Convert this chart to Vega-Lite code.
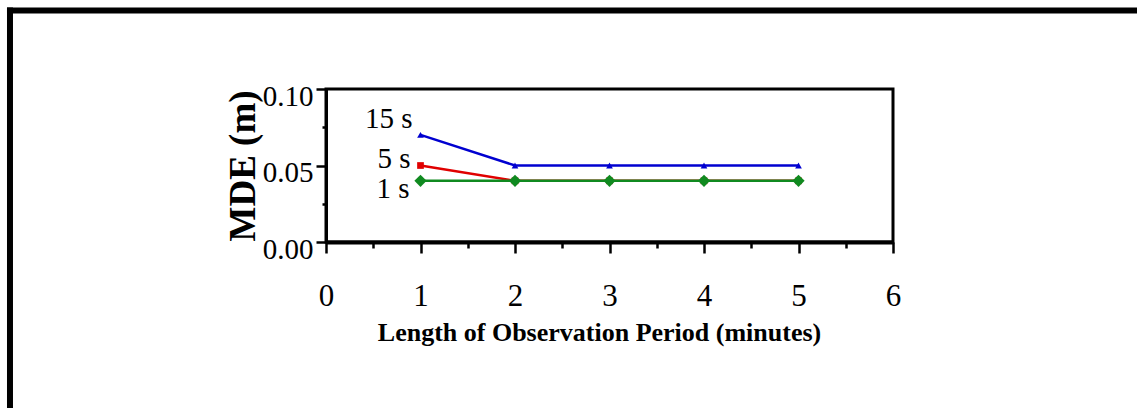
{
  "$schema": "https://vega.github.io/schema/vega-lite/v6.json",
  "width": 567,
  "height": 153,
  "autosize": {"type": "none"},
  "padding": {"left": 326, "top": 89, "right": 244, "bottom": 166},
  "background": "white",
  "config": {
    "view": {"stroke": "black", "strokeWidth": 3},
    "font": "Liberation Serif"
  },
  "data": {
    "values": [
      {"period": 1, "series": "15 s", "mde": 0.07},
      {"period": 2, "series": "15 s", "mde": 0.05},
      {"period": 3, "series": "15 s", "mde": 0.05},
      {"period": 4, "series": "15 s", "mde": 0.05},
      {"period": 5, "series": "15 s", "mde": 0.05},
      {"period": 1, "series": "5 s", "mde": 0.05},
      {"period": 2, "series": "5 s", "mde": 0.04},
      {"period": 3, "series": "5 s", "mde": 0.04},
      {"period": 4, "series": "5 s", "mde": 0.04},
      {"period": 5, "series": "5 s", "mde": 0.04},
      {"period": 1, "series": "1 s", "mde": 0.04},
      {"period": 2, "series": "1 s", "mde": 0.04},
      {"period": 3, "series": "1 s", "mde": 0.04},
      {"period": 4, "series": "1 s", "mde": 0.04},
      {"period": 5, "series": "1 s", "mde": 0.04}
    ]
  },
  "resolve": {"axis": {"x": "independent", "y": "independent"}},
  "layer": [
    {
      "data": {"values": [{}]},
      "mark": {"type": "rule", "color": "black", "strokeWidth": 6, "strokeCap": "square"},
      "encoding": {
        "y": {"datum": 0.1513, "type": "quantitative", "scale": {"domain": [0, 0.1], "nice": false}, "axis": null},
        "x": {"datum": -3.344, "type": "quantitative", "scale": {"domain": [0, 6], "nice": false}, "axis": null},
        "x2": {"datum": 9.5}
      }
    },
    {
      "data": {"values": [{}]},
      "mark": {"type": "rule", "color": "black", "strokeWidth": 6, "strokeCap": "square"},
      "encoding": {
        "x": {"datum": -3.344, "type": "quantitative", "axis": null},
        "y": {"datum": 0.1513, "type": "quantitative", "axis": null},
        "y2": {"datum": -0.14}
      }
    },
    {
      "mark": {"type": "line", "strokeWidth": 2.5},
      "encoding": {
        "x": {
          "field": "period",
          "type": "quantitative",
          "scale": {"domain": [0, 6], "nice": false},
          "axis": {
            "orient": "bottom",
            "values": [0, 1, 2, 3, 4, 5, 6],
            "format": "d",
            "tickSize": 11,
            "tickWidth": 2.5,
            "tickColor": "black",
            "domainColor": "black",
            "domainWidth": 4,
            "grid": false,
            "labelFlush": false,
            "labelOverlap": false,
            "labelFont": "Liberation Serif",
            "labelFontSize": 31,
            "labelColor": "black",
            "labelBaseline": "alphabetic",
            "labelPadding": 52,
            "title": "Length of Observation Period (minutes)",
            "titleFont": "Liberation Serif",
            "titleFontSize": 26,
            "titleFontWeight": "bold",
            "titleColor": "black",
            "titleX": 273,
            "titlePadding": 8
          }
        },
        "y": {
          "field": "mde",
          "type": "quantitative",
          "scale": {"domain": [0, 0.1], "nice": false},
          "axis": {
            "orient": "left",
            "values": [0, 0.05, 0.1],
            "format": ".2f",
            "tickSize": 10,
            "tickWidth": 2.5,
            "tickColor": "black",
            "domainColor": "black",
            "domainWidth": 3,
            "grid": false,
            "labelFlush": false,
            "labelOverlap": false,
            "labelFont": "Liberation Serif",
            "labelFontSize": 29,
            "labelColor": "black",
            "labelBaseline": "alphabetic",
            "labelOffset": 16,
            "labelPadding": 3,
            "title": "MDE (m)",
            "titleFont": "Liberation Serif",
            "titleFontSize": 37,
            "titleFontWeight": "bold",
            "titleColor": "black",
            "titlePadding": 0
          }
        },
        "color": {
          "field": "series",
          "type": "nominal",
          "scale": {"domain": ["15 s", "5 s", "1 s"], "range": ["#0000d0", "#e00000", "#108a20"]},
          "legend": null
        }
      }
    },
    {
      "transform": [{"filter": "datum.series === '15 s'"}],
      "mark": {"type": "point", "shape": "triangle-up", "size": 45, "filled": true, "opacity": 1, "strokeWidth": 0, "color": "#0000d0"},
      "encoding": {
        "x": {
          "field": "period",
          "type": "quantitative",
          "axis": {
            "orient": "bottom",
            "values": [0.5, 1.5, 2.5, 3.5, 4.5, 5.5],
            "tickSize": 6,
            "tickWidth": 2.5,
            "tickColor": "black",
            "domain": false,
            "labels": false,
            "grid": false,
            "title": null
          }
        },
        "y": {
          "field": "mde",
          "type": "quantitative",
          "axis": {
            "orient": "left",
            "values": [0.025, 0.075],
            "tickSize": 4,
            "tickWidth": 2.5,
            "tickColor": "black",
            "domain": false,
            "labels": false,
            "grid": false,
            "title": null
          }
        }
      }
    },
    {
      "transform": [{"filter": "datum.series === '5 s'"}],
      "mark": {"type": "point", "shape": "square", "size": 45, "filled": true, "opacity": 1, "strokeWidth": 0, "color": "#e00000"},
      "encoding": {
        "x": {"field": "period", "type": "quantitative", "axis": null},
        "y": {"field": "mde", "type": "quantitative", "axis": null}
      }
    },
    {
      "transform": [{"filter": "datum.series === '1 s'"}],
      "mark": {"type": "point", "shape": "diamond", "size": 150, "filled": true, "opacity": 1, "strokeWidth": 0, "color": "#108a20"},
      "encoding": {
        "x": {"field": "period", "type": "quantitative", "axis": null},
        "y": {"field": "mde", "type": "quantitative", "axis": null}
      }
    },
    {
      "transform": [{"filter": "datum.period === 1 && datum.series === '15 s'"}],
      "mark": {"type": "text", "align": "right", "baseline": "alphabetic", "dx": -8, "dy": -7, "fontSize": 29, "font": "Liberation Serif", "color": "black"},
      "encoding": {
        "x": {"field": "period", "type": "quantitative", "axis": null},
        "y": {"field": "mde", "type": "quantitative", "axis": null},
        "text": {"field": "series"}
      }
    },
    {
      "transform": [{"filter": "datum.period === 1 && datum.series === '5 s'"}],
      "mark": {"type": "text", "align": "right", "baseline": "alphabetic", "dx": -10, "dy": 2, "fontSize": 29, "font": "Liberation Serif", "color": "black"},
      "encoding": {
        "x": {"field": "period", "type": "quantitative", "axis": null},
        "y": {"field": "mde", "type": "quantitative", "axis": null},
        "text": {"field": "series"}
      }
    },
    {
      "transform": [{"filter": "datum.period === 1 && datum.series === '1 s'"}],
      "mark": {"type": "text", "align": "right", "baseline": "alphabetic", "dx": -11, "dy": 17, "fontSize": 29, "font": "Liberation Serif", "color": "black"},
      "encoding": {
        "x": {"field": "period", "type": "quantitative", "axis": null},
        "y": {"field": "mde", "type": "quantitative", "axis": null},
        "text": {"field": "series"}
      }
    }
  ]
}
